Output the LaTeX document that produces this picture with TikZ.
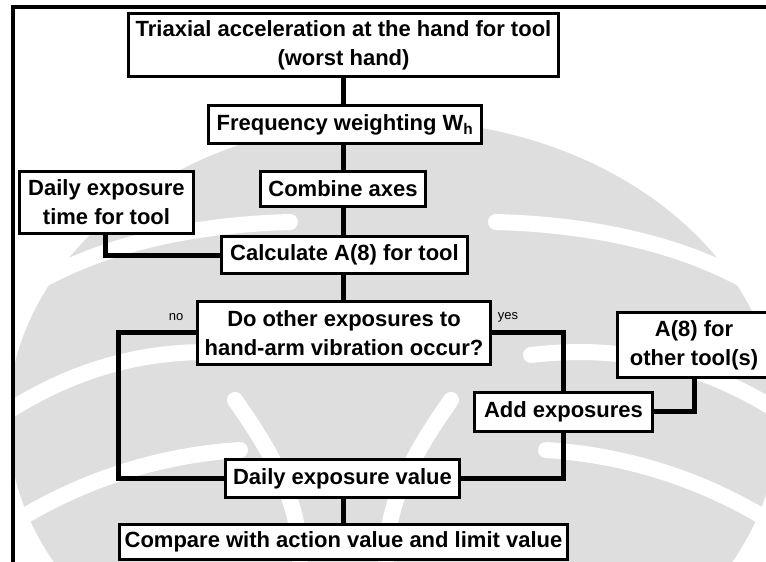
\documentclass[tikz,border=0pt]{standalone}
\usepackage{fontspec}
\setmainfont{Liberation Sans}
\begin{document}
\begin{tikzpicture}[x=1pt,y=-1pt,
  box/.style={draw=black,line width=2.4pt,fill=white,inner sep=0pt,align=center,
    font=\bfseries\fontsize{22}{29}\selectfont},
  conn/.style={draw=black,line width=5pt},
  wm/.style={fill=black!13,draw=none},
  wband/.style={draw=white,line width=16pt,line cap=round},
  lbl/.style={font=\fontsize{13}{15}\selectfont,inner sep=0pt}]
\useasboundingbox (0,0) rectangle (766,562);
\begin{scope}
\clip (0,0) rectangle (766,562);
% watermark (light grey logo behind the chart)
\begin{scope}
\clip (15,9) rectangle (766,562);
\fill[wm] (393,420) ellipse [x radius=385, y radius=300];
\fill[wm] (290,200) -- (342,100) -- (400,200) -- cycle;
\draw[wband] (10,300) .. controls (80,250) and (180,225) .. (290,222);
\draw[wband] (10,410) .. controls (90,360) and (170,345) .. (255,355);
\draw[wband] (10,525) .. controls (80,480) and (160,455) .. (240,450);
\draw[wband] (776,300) .. controls (706,250) and (606,225) .. (496,222);
\draw[wband] (776,410) .. controls (696,360) and (616,345) .. (531,355);
\draw[wband] (776,525) .. controls (706,480) and (626,455) .. (546,450);
\draw[wband] (300,560) .. controls (300,500) and (270,450) .. (235,400);
\draw[wband] (386,560) .. controls (386,500) and (416,450) .. (451,400);
\end{scope}
% frame
\draw[line width=3.5pt,line cap=rect] (13,562) -- (13,7) -- (766,7);
% nodes
\node[box,minimum width=429pt,minimum height=62pt] (tri) at (343.5,45) {Triaxial acceleration at the hand for tool\\(worst hand)};
\node[box,minimum width=272pt,minimum height=37pt] (freq) at (345,124.5) {Frequency weighting W\textsubscript{h}};
\node[box,minimum width=164pt,minimum height=34pt] (comb) at (343,189) {Combine axes};
\node[box,minimum width=173pt,minimum height=61pt] (dtime) at (106.5,202.5) {Daily exposure\\time for tool};
\node[box,minimum width=245pt,minimum height=36pt] (calc) at (344.5,255) {Calculate A(8) for tool};
\node[box,minimum width=292pt,minimum height=62pt] (doq) at (344,333) {Do other exposures to\\hand-arm vibration occur?};
\node[box,minimum width=152pt,minimum height=64pt] (a8o) at (694,345) {A(8) for\\other tool(s)};
\node[box,minimum width=177pt,minimum height=38pt] (add) at (563.5,412) {Add exposures};
\node[box,minimum width=233pt,minimum height=37pt] (dval) at (342.5,478.5) {Daily exposure value};
\node[box,minimum width=447pt,minimum height=34pt] (comp) at (343.5,542) {Compare with action value and limit value};
% coordinates
\coordinate (dtb) at (105,233);
\coordinate (dtc) at (105,255);
\coordinate (nob) at (118,332);
\coordinate (noc) at (118,478.5);
\coordinate (yesb) at (563,332);
\coordinate (a8c) at (694,411);
\coordinate (addc) at (563,478.5);
% connectors
\draw[conn] (tri.south -| 343,0) -- (freq.north -| 343,0);
\draw[conn] (freq.south -| 343,0) -- (comb.north -| 343,0);
\draw[conn] (comb.south -| 343,0) -- (calc.north -| 343,0);
\draw[conn] (calc.south -| 343,0) -- (doq.north -| 343,0);
\draw[conn] (dtime.south -| dtb) -- (dtc) -- (calc.west);
\draw[conn] (doq.west |- nob) -- (nob) -- (noc) -- (dval.west);
\draw[conn] (doq.east |- yesb) -- (yesb) -- (add.north -| yesb);
\draw[conn] (a8o.south) -- (a8c) -- (add.east |- a8c);
\draw[conn] (add.south -| yesb) -- (addc) -- (dval.east);
\draw[conn] (dval.south -| 343,0) -- (comp.north -| 343,0);
% box borders on top of the connectors
\foreach \n in {tri,freq,comb,dtime,calc,doq,a8o,add,dval,comp}{
  \draw[line width=2.4pt] (\n.north west) rectangle (\n.south east);}
\node[lbl] (no) at (176,317) {no};
\node[lbl] (yes) at (508,317) {yes};
\end{scope}
\end{tikzpicture}
\end{document}
